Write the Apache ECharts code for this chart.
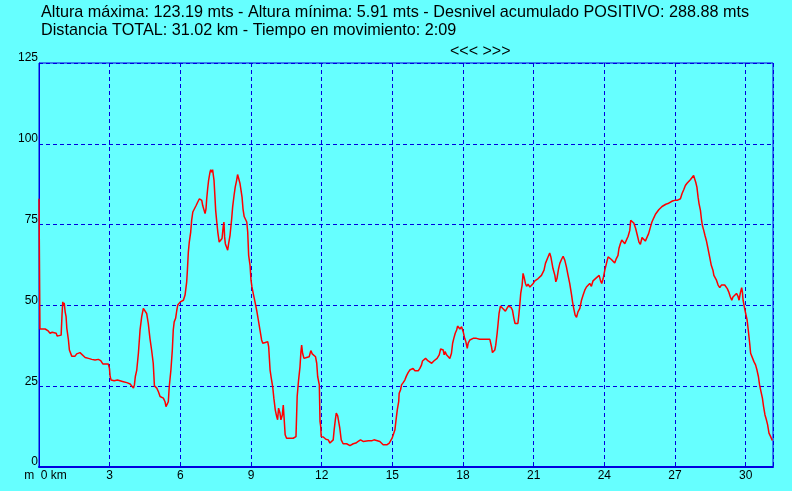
<!DOCTYPE html>
<html>
<head>
<meta charset="utf-8">
<script src="https://cdn.jsdelivr.net/npm/echarts@6/dist/echarts.min.js"></script>
<style>
html,body{margin:0;padding:0;background:#66ffff;}
#chart{width:792px;height:491px;}
</style>
</head>
<body>
<div id="chart"></div>
<script>
var titleLine1 = 'Altura máxima: 123.19 mts - Altura mínima: 5.91 mts - Desnivel acumulado POSITIVO: 288.88 mts';
var titleLine2 = 'Distancia TOTAL: 31.02 km - Tiempo en movimiento: 2:09';
var navText = '<<< >>>';
var xTickUnit = 'km';
var yUnit = 'm';

var distKm = [
0.00,0.04,0.26,0.39,0.47,0.56,0.64,0.73,0.77,0.85,0.94,0.98,1.01,1.03,1.07,1.11,1.15,1.18,1.25,1.29,
1.39,1.46,1.53,1.60,1.74,1.82,1.96,2.10,2.24,2.38,2.52,2.62,2.71,2.94,2.99,3.02,3.06,3.13,3.19,3.27,
3.33,3.41,3.58,3.73,3.87,3.94,4.01,4.05,4.09,4.15,4.22,4.29,4.36,4.43,4.50,4.57,4.64,4.71,4.78,4.85,
4.90,5.00,5.07,5.14,5.28,5.35,5.39,5.45,5.49,5.53,5.60,5.66,5.70,5.74,5.80,5.85,5.89,5.96,6.00,6.07,
6.13,6.20,6.27,6.30,6.34,6.38,6.44,6.48,6.53,6.59,6.67,6.74,6.81,6.87,6.91,6.95,7.01,7.05,7.09,7.12,
7.16,7.20,7.26,7.29,7.33,7.37,7.40,7.43,7.47,7.50,7.54,7.59,7.65,7.71,7.77,7.82,7.85,7.88,7.91,7.97,
8.01,8.05,8.11,8.18,8.22,8.28,8.33,8.39,8.43,8.48,8.53,8.58,8.62,8.66,8.71,8.76,8.82,8.86,8.90,8.96,
9.00,9.04,9.10,9.17,9.24,9.31,9.38,9.45,9.50,9.55,9.61,9.67,9.71,9.75,9.81,9.85,9.92,9.97,10.03,10.09,
10.13,10.17,10.23,10.27,10.33,10.37,10.41,10.45,10.51,10.65,10.79,10.87,10.91,10.96,11.02,11.08,11.12,11.15,11.19,11.25,
11.30,11.36,11.47,11.54,11.60,11.67,11.74,11.79,11.83,11.87,11.90,11.93,11.96,11.98,12.07,12.18,12.28,12.35,12.42,12.49,
12.53,12.58,12.62,12.68,12.73,12.77,12.83,12.91,13.06,13.13,13.20,13.27,13.34,13.45,13.55,13.65,13.76,13.84,13.98,14.12,
14.22,14.27,14.33,14.47,14.61,14.68,14.78,14.87,14.93,14.99,15.04,15.11,15.15,15.21,15.27,15.29,15.35,15.39,15.46,15.53,
15.60,15.67,15.74,15.82,15.88,15.96,16.03,16.10,16.17,16.24,16.28,16.34,16.41,16.47,16.52,16.59,16.67,16.71,16.76,16.83,
16.90,16.95,16.99,17.05,17.12,17.16,17.20,17.24,17.30,17.37,17.44,17.48,17.51,17.56,17.61,17.67,17.73,17.77,17.81,17.87,
17.94,17.98,18.01,18.07,18.12,18.18,18.22,18.29,18.36,18.43,18.50,18.57,18.64,18.71,18.85,18.93,19.00,19.14,19.18,19.21,
19.25,19.31,19.35,19.39,19.45,19.49,19.53,19.59,19.63,19.68,19.73,19.80,19.85,19.92,19.99,20.04,20.10,20.16,20.21,20.27,
20.33,20.37,20.41,20.45,20.51,20.55,20.59,20.65,20.70,20.76,20.84,20.91,20.98,21.05,21.12,21.19,21.26,21.33,21.40,21.44,
21.50,21.54,21.61,21.68,21.73,21.78,21.82,21.90,21.94,21.99,22.05,22.11,22.18,22.25,22.32,22.39,22.46,22.53,22.61,22.65,
22.70,22.76,22.82,22.88,22.96,23.03,23.10,23.17,23.24,23.31,23.38,23.45,23.52,23.59,23.67,23.73,23.78,23.84,23.89,23.95,
24.02,24.09,24.16,24.23,24.30,24.37,24.44,24.51,24.58,24.62,24.68,24.74,24.80,24.87,24.94,25.01,25.08,25.12,25.18,25.25,
25.33,25.40,25.47,25.53,25.60,25.67,25.74,25.81,25.88,25.96,26.02,26.10,26.17,26.24,26.31,26.38,26.45,26.52,26.61,26.70,
26.78,26.89,26.99,27.09,27.17,27.23,27.30,27.37,27.44,27.51,27.58,27.65,27.72,27.79,27.84,27.88,27.93,27.98,28.02,28.08,
28.12,28.16,28.22,28.27,28.33,28.40,28.47,28.54,28.61,28.65,28.70,28.76,28.83,28.90,28.97,29.04,29.11,29.18,29.22,29.28,
29.35,29.41,29.46,29.53,29.61,29.67,29.72,29.77,29.83,29.86,29.89,29.94,30.00,30.06,30.11,30.17,30.21,30.28,30.35,30.42,
30.48,30.54,30.59,30.65,30.71,30.76,30.82,30.88,30.93,30.99,31.06,31.13
];

var altM = [
83.0,42.7,42.7,42.1,41.4,41.7,41.1,41.4,40.5,40.2,40.8,47.5,51.1,50.1,50.8,48.0,46.5,43.0,39.3,36.2,
34.3,33.9,34.3,35.0,35.4,35.0,33.9,33.6,33.3,33.1,33.3,32.9,31.9,31.9,30.5,28.0,26.9,27.2,26.7,27.2,
26.9,26.4,26.4,26.1,25.7,25.1,24.4,25.4,28.0,30.0,35.2,42.4,46.5,49.1,49.6,47.5,44.4,39.8,36.2,32.1,
25.1,24.4,23.3,21.8,21.3,20.2,18.7,19.2,20.2,24.9,30.0,36.2,42.4,44.9,46.0,48.5,50.1,50.6,51.1,50.7,
51.6,53.2,57.3,60.9,66.5,69.6,72.7,76.3,78.9,79.4,80.9,82.0,83.0,83.5,82.5,80.9,79.4,78.4,79.9,83.0,
86.1,88.7,91.2,92.0,91.2,92.0,91.5,88.7,83.5,79.4,76.3,72.7,69.6,69.6,70.7,74.3,75.8,71.2,69.1,68.6,
67.1,69.1,71.7,76.8,80.4,84.0,86.6,88.7,90.5,89.2,87.8,87.5,83.5,79.9,77.5,77.1,75.8,72.7,65.5,62.4,
57.8,55.7,53.5,51.1,48.5,45.5,42.4,39.3,38.3,38.8,38.5,39.0,38.8,37.2,30.0,28.0,24.9,21.3,17.7,15.6,
14.6,18.2,16.7,14.6,16.1,19.2,14.6,10.0,8.9,8.9,8.9,8.4,9.4,21.8,26.9,31.0,35.7,37.7,35.2,33.6,
33.1,33.9,34.1,36.0,35.0,34.7,34.1,32.1,28.0,27.5,25.4,14.1,12.5,9.4,9.3,8.6,8.4,7.4,7.9,8.4,
11.5,14.6,16.7,15.8,15.4,12.0,8.4,7.2,7.2,6.9,6.6,6.6,7.2,7.4,7.9,8.4,7.9,8.1,8.1,8.1,
8.4,8.9,8.2,7.9,6.9,6.4,6.9,7.4,7.9,8.9,9.4,11.5,14.1,17.7,20.2,22.8,23.9,25.4,26.1,26.9,
28.2,29.2,30.0,30.2,30.5,29.8,29.5,29.8,30.5,31.6,32.8,33.1,33.6,33.3,32.8,32.5,32.1,31.6,32.8,33.1,
33.6,33.6,34.7,36.5,36.7,36.2,34.7,35.7,34.7,34.1,33.6,33.3,35.2,38.3,39.8,41.4,42.4,43.6,43.2,42.7,
43.4,42.9,41.8,39.8,38.8,36.7,38.3,39.3,39.5,39.8,40.3,39.8,40.3,39.5,39.5,39.3,39.5,39.5,39.5,37.2,
35.4,35.0,36.2,37.7,41.4,44.4,47.5,49.8,50.1,49.1,48.8,48.2,48.8,49.8,49.8,49.4,48.5,46.0,44.4,43.9,
44.4,47.0,50.1,53.7,56.3,59.9,58.8,56.8,55.9,56.6,55.7,55.7,56.8,57.6,58.0,58.3,58.8,59.3,59.9,60.9,
63.0,63.5,65.0,66.2,65.0,63.0,61.4,59.3,57.3,58.3,61.1,63.0,64.2,65.2,64.0,61.9,59.3,56.8,53.2,51.1,
49.1,47.0,46.3,48.0,49.1,51.6,53.2,54.7,55.7,56.3,56.8,55.9,57.6,58.0,58.6,58.3,59.3,57.6,56.8,58.3,
60.9,63.0,65.0,65.2,64.2,64.0,63.1,64.5,65.5,67.6,69.1,70.2,69.9,69.1,69.6,71.4,73.2,76.3,76.3,75.5,
73.8,71.7,69.6,68.9,71.0,70.7,69.9,70.1,72.2,74.3,75.8,77.1,78.2,78.9,79.6,80.2,80.6,80.9,81.3,81.5,
82.0,82.3,82.5,82.5,82.7,83.0,84.6,85.8,87.1,87.8,88.4,88.9,89.5,90.2,89.7,88.1,86.6,83.5,81.5,79.4,
76.8,74.8,73.2,71.7,70.1,67.6,65.0,62.4,60.9,59.3,59.9,57.8,56.3,55.5,56.3,55.9,56.3,56.3,55.2,54.2,
52.6,51.6,52.6,53.2,53.7,52.9,51.6,53.7,55.5,54.2,51.6,49.6,47.5,45.5,42.4,38.3,35.2,34.7,32.6,31.6,
30.0,28.0,25.4,23.3,21.3,18.7,16.1,14.6,13.1,10.5,9.4,8.2
];

var xMin = 0, xMax = 31.16, xStep = 3;
var yMin = 0, yMax = 125, yStep = 25;

var points = distKm.map(function (d, i) { return [d, altM[i]]; });

var FONT = '"Liberation Sans", Arial, sans-serif';
var BLUE = '#0000e0';

var chart = echarts.init(document.getElementById('chart'), null, {renderer: 'canvas'});
chart.setOption({
  backgroundColor: '#66ffff',
  animation: false,
  textStyle: {fontFamily: FONT},
  title: [
    {text: titleLine1 + '\n' + titleLine2, left: 41, top: 4, padding: 0,
     textStyle: {fontFamily: FONT, fontSize: 16.2, fontWeight: 'normal', color: '#000', lineHeight: 18}},
    {text: navText, left: 450, top: 44, padding: 0,
     textStyle: {fontFamily: FONT, fontSize: 16, fontWeight: 'normal', color: '#000'}}
  ],
  grid: {left: 39, right: 19, top: 63, bottom: 24, show: true, borderColor: BLUE, borderWidth: 1, backgroundColor: 'transparent'},
  xAxis: {
    type: 'value', min: xMin, max: xMax, interval: xStep,
    axisLine: {show: true, onZero: false, lineStyle: {color: BLUE, width: 2}},
    axisTick: {show: false},
    splitLine: {show: true, lineStyle: {color: BLUE, type: [4, 3], width: 1}},
    axisLabel: {
      show: true, showMaxLabel: false, margin: 3, color: '#000', fontSize: 12, fontFamily: FONT,
      formatter: function (v) { return v === 0 ? '{z|' + yUnit + '  0 ' + xTickUnit + '}' : String(v); },
      rich: {z: {fontSize: 12, fontFamily: FONT, color: '#000', padding: [0, 0, 0, 13]}}
    }
  },
  yAxis: {
    type: 'value', min: yMin, max: yMax, interval: yStep,
    axisLine: {show: true, lineStyle: {color: BLUE, width: 1}},
    axisTick: {show: false},
    splitLine: {show: true, lineStyle: {color: BLUE, type: [4, 3], width: 1}},
    axisLabel: {show: true, margin: 1, color: '#000', fontSize: 12, fontFamily: FONT, verticalAlign: 'bottom', lineHeight: 10}
  },
  series: [{
    type: 'line', data: points, showSymbol: false, symbol: 'none',
    lineStyle: {color: '#ff0000', width: 1.5}, itemStyle: {color: '#ff0000'}
  }]
});
</script>
</body>
</html>
